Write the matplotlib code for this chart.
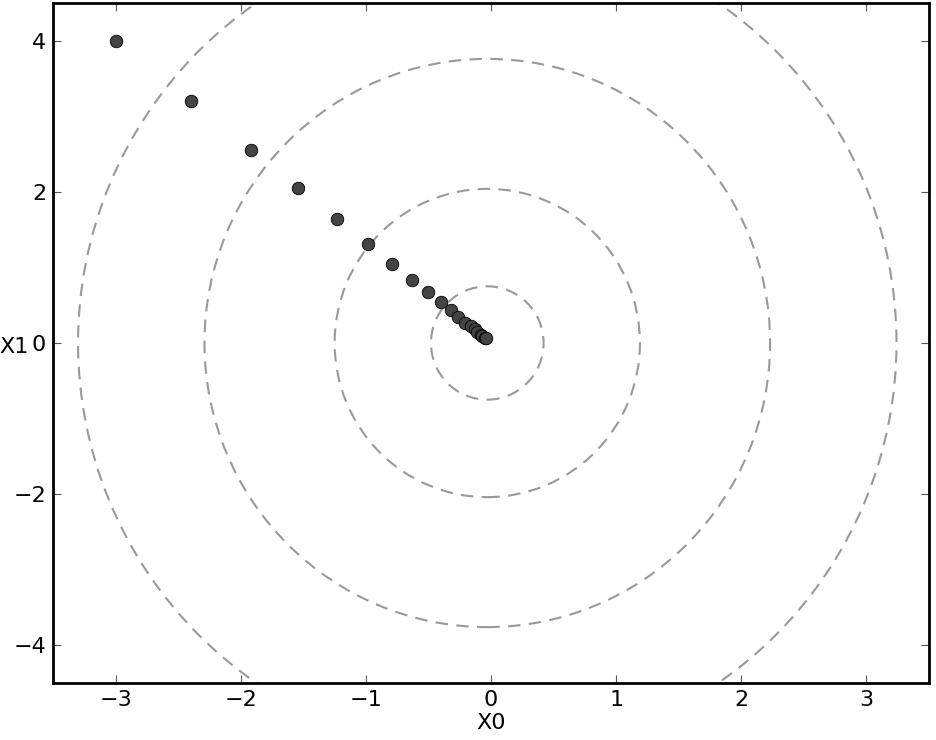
import matplotlib
matplotlib.use('Agg')
import matplotlib.pyplot as plt
import matplotlib.patches as mpatches

# gradient descent history
x0_hist = [-3.0, -2.4, -1.92, -1.54, -1.23, -0.98, -0.79, -0.63, -0.50, -0.40,
           -0.32, -0.26, -0.21, -0.16, -0.13, -0.11, -0.08, -0.07, -0.05, -0.04]
x1_hist = [4.0, 3.2, 2.56, 2.05, 1.64, 1.31, 1.05, 0.84, 0.67, 0.54,
           0.43, 0.34, 0.27, 0.22, 0.18, 0.14, 0.11, 0.09, 0.07, 0.06]

# contour rings (semi-axes along X0 and X1)
ring_center = (-0.03, 0.0)
ring_rx = [0.45, 1.22, 2.26, 3.27]
ring_ry = [0.75, 2.04, 3.76, 5.45]

xticks = [-3, -2, -1, 0, 1, 2, 3]
yticks = [-4, -2, 0, 2, 4]

fig = plt.figure(figsize=(9.37, 7.40), dpi=100)
ax = fig.add_axes([0.0566, 0.077, 0.9349, 0.919])

for rx, ry in zip(ring_rx, ring_ry):
    ell = mpatches.Ellipse(ring_center, 2 * rx, 2 * ry, fill=False,
                           edgecolor='#999999', linewidth=1.5,
                           linestyle=(0, (6, 4)), zorder=2)
    ax.add_patch(ell)

ax.plot(x0_hist, x1_hist, 'o', markersize=9, markerfacecolor='#444444',
        markeredgecolor='black', markeredgewidth=0.6, zorder=3)

ax.set_xlim(-3.5, 3.5)
ax.set_ylim(-4.5, 4.5)
ax.set_xticks(xticks)
ax.set_yticks(yticks)
ax.tick_params(direction='in', length=6, width=0.8, color='#555555',
               top=True, right=True, labelsize=16, pad=5)
for sp in ax.spines.values():
    sp.set_linewidth(2)

ax.set_xlabel('X0', fontsize=16, labelpad=2)
ax.set_ylabel('X1', fontsize=16, rotation=0, va='center', ha='left')
ax.yaxis.set_label_coords(-0.061, 0.494)

fig.savefig('out.png', dpi=100, facecolor='white')
